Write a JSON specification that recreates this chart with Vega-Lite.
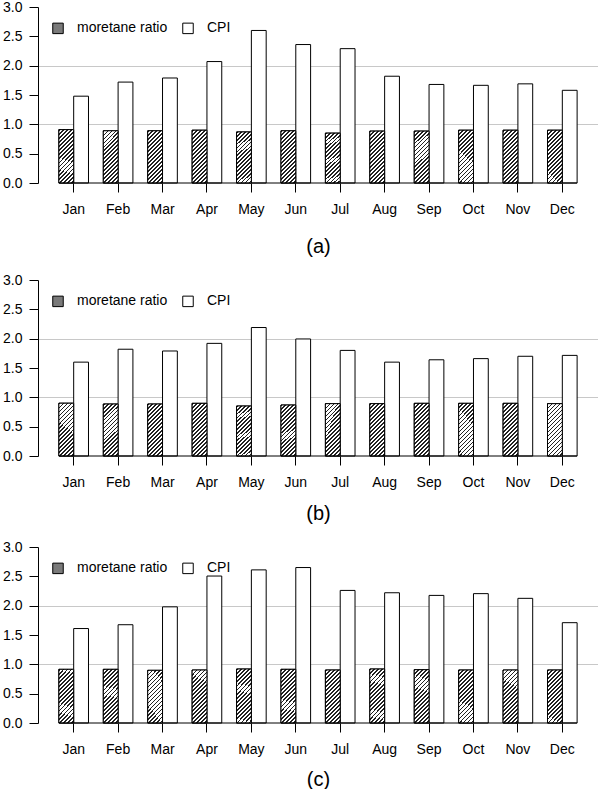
{
  "$schema": "https://vega.github.io/schema/vega-lite/v6.json",
  "padding": {"left": 2, "top": 0, "right": 0, "bottom": 0},
  "spacing": 17,
  "resolve": {"scale": {"fill": "independent"}, "legend": {"fill": "independent"}},
  "config": {
    "font": "Liberation Sans",
    "view": {"stroke": null},
    "axisX": {"domain": false, "grid": false, "tickColor": "black", "tickSize": 9, "labelFontSize": 14, "labelColor": "black", "labelPadding": 10, "labelAngle": 0, "titleFontSize": 20, "titleFontWeight": "normal", "titleColor": "black"},
    "axisY": {"domainColor": "black", "tickColor": "black", "tickSize": 9, "labelFontSize": 14, "labelColor": "black", "labelPadding": 7, "grid": true, "gridColor": "#c8c8c8", "zindex": 1},
    "legend": {"orient": "none", "legendX": 13, "legendY": 14, "direction": "horizontal", "padding": 0, "columnPadding": 12, "labelOffset": 12, "symbolSize": 110, "symbolType": "square", "symbolStrokeColor": "black", "symbolStrokeWidth": 1, "labelFontSize": 14, "labelColor": "black", "title": null}
  },
  "datasets": {
    "a": [
      {"month": "Jan", "series": "moretane ratio", "value": 0.91}, {"month": "Jan", "series": "CPI", "value": 1.48},
      {"month": "Feb", "series": "moretane ratio", "value": 0.89}, {"month": "Feb", "series": "CPI", "value": 1.72},
      {"month": "Mar", "series": "moretane ratio", "value": 0.89}, {"month": "Mar", "series": "CPI", "value": 1.79},
      {"month": "Apr", "series": "moretane ratio", "value": 0.90}, {"month": "Apr", "series": "CPI", "value": 2.07},
      {"month": "May", "series": "moretane ratio", "value": 0.87}, {"month": "May", "series": "CPI", "value": 2.60},
      {"month": "Jun", "series": "moretane ratio", "value": 0.89}, {"month": "Jun", "series": "CPI", "value": 2.36},
      {"month": "Jul", "series": "moretane ratio", "value": 0.85}, {"month": "Jul", "series": "CPI", "value": 2.29},
      {"month": "Aug", "series": "moretane ratio", "value": 0.885}, {"month": "Aug", "series": "CPI", "value": 1.82},
      {"month": "Sep", "series": "moretane ratio", "value": 0.885}, {"month": "Sep", "series": "CPI", "value": 1.68},
      {"month": "Oct", "series": "moretane ratio", "value": 0.90}, {"month": "Oct", "series": "CPI", "value": 1.665},
      {"month": "Nov", "series": "moretane ratio", "value": 0.90}, {"month": "Nov", "series": "CPI", "value": 1.69},
      {"month": "Dec", "series": "moretane ratio", "value": 0.90}, {"month": "Dec", "series": "CPI", "value": 1.58}
    ],
    "b": [
      {"month": "Jan", "series": "moretane ratio", "value": 0.90}, {"month": "Jan", "series": "CPI", "value": 1.60},
      {"month": "Feb", "series": "moretane ratio", "value": 0.886}, {"month": "Feb", "series": "CPI", "value": 1.82},
      {"month": "Mar", "series": "moretane ratio", "value": 0.886}, {"month": "Mar", "series": "CPI", "value": 1.79},
      {"month": "Apr", "series": "moretane ratio", "value": 0.898}, {"month": "Apr", "series": "CPI", "value": 1.92},
      {"month": "May", "series": "moretane ratio", "value": 0.852}, {"month": "May", "series": "CPI", "value": 2.19},
      {"month": "Jun", "series": "moretane ratio", "value": 0.869}, {"month": "Jun", "series": "CPI", "value": 1.995},
      {"month": "Jul", "series": "moretane ratio", "value": 0.892}, {"month": "Jul", "series": "CPI", "value": 1.80},
      {"month": "Aug", "series": "moretane ratio", "value": 0.892}, {"month": "Aug", "series": "CPI", "value": 1.60},
      {"month": "Sep", "series": "moretane ratio", "value": 0.898}, {"month": "Sep", "series": "CPI", "value": 1.64},
      {"month": "Oct", "series": "moretane ratio", "value": 0.898}, {"month": "Oct", "series": "CPI", "value": 1.66},
      {"month": "Nov", "series": "moretane ratio", "value": 0.898}, {"month": "Nov", "series": "CPI", "value": 1.70},
      {"month": "Dec", "series": "moretane ratio", "value": 0.892}, {"month": "Dec", "series": "CPI", "value": 1.715}
    ],
    "c": [
      {"month": "Jan", "series": "moretane ratio", "value": 0.915}, {"month": "Jan", "series": "CPI", "value": 1.61},
      {"month": "Feb", "series": "moretane ratio", "value": 0.915}, {"month": "Feb", "series": "CPI", "value": 1.675},
      {"month": "Mar", "series": "moretane ratio", "value": 0.898}, {"month": "Mar", "series": "CPI", "value": 1.98},
      {"month": "Apr", "series": "moretane ratio", "value": 0.903}, {"month": "Apr", "series": "CPI", "value": 2.505},
      {"month": "May", "series": "moretane ratio", "value": 0.92}, {"month": "May", "series": "CPI", "value": 2.61},
      {"month": "Jun", "series": "moretane ratio", "value": 0.915}, {"month": "Jun", "series": "CPI", "value": 2.65},
      {"month": "Jul", "series": "moretane ratio", "value": 0.903}, {"month": "Jul", "series": "CPI", "value": 2.26},
      {"month": "Aug", "series": "moretane ratio", "value": 0.92}, {"month": "Aug", "series": "CPI", "value": 2.22},
      {"month": "Sep", "series": "moretane ratio", "value": 0.909}, {"month": "Sep", "series": "CPI", "value": 2.175},
      {"month": "Oct", "series": "moretane ratio", "value": 0.903}, {"month": "Oct", "series": "CPI", "value": 2.205},
      {"month": "Nov", "series": "moretane ratio", "value": 0.903}, {"month": "Nov", "series": "CPI", "value": 2.125},
      {"month": "Dec", "series": "moretane ratio", "value": 0.903}, {"month": "Dec", "series": "CPI", "value": 1.71}
    ]
  },
  "vconcat": [
    {
      "width": 560, "height": 176,
      "data": {"name": "a"},
      "layer": [
        {
          "mark": {"type": "bar", "stroke": "black", "strokeWidth": 1},
          "encoding": {
            "x": {"field": "month", "type": "nominal", "scale": {"domain": ["Jan","Feb","Mar","Apr","May","Jun","Jul","Aug","Sep","Oct","Nov","Dec"], "paddingInner": 0.3333, "paddingOuter": 0.47}, "axis": {"title": "(a)", "titlePadding": 20}},
            "xOffset": {"field": "series", "type": "nominal", "scale": {"domain": ["moretane ratio", "CPI"], "paddingInner": 0, "paddingOuter": 0}},
            "y": {"field": "value", "type": "quantitative", "scale": {"domain": [0, 3], "nice": false}, "axis": {"title": null, "values": [0, 0.5, 1, 1.5, 2, 2.5, 3], "format": ".1f", "gridOpacity": {"condition": {"test": "datum.value === 1 || datum.value === 2", "value": 1}, "value": 0}}},
            "fill": {"field": "series", "type": "nominal", "scale": {"domain": ["moretane ratio", "CPI"], "range": ["#7a7a7a", "white"]}}
          }
        },
        {
          "transform": [{"filter": "datum.series === 'moretane ratio'"}],
          "mark": {"type": "bar", "stroke": "black", "strokeWidth": 1,
            "fill": {"gradient": "linear", "x1": 0, "y1": 0, "x2": 0.341, "y2": 1.2, "stops": [
              {"offset": 0, "color": "#222"}, {"offset": 0.0265, "color": "#222"}, {"offset": 0.0265, "color": "#fff"}, {"offset": 0.0588, "color": "#fff"},
              {"offset": 0.0588, "color": "#222"}, {"offset": 0.0853, "color": "#222"}, {"offset": 0.0853, "color": "#fff"}, {"offset": 0.1176, "color": "#fff"},
              {"offset": 0.1176, "color": "#222"}, {"offset": 0.1441, "color": "#222"}, {"offset": 0.1441, "color": "#fff"}, {"offset": 0.1765, "color": "#fff"},
              {"offset": 0.1765, "color": "#222"}, {"offset": 0.2029, "color": "#222"}, {"offset": 0.2029, "color": "#fff"}, {"offset": 0.2353, "color": "#fff"},
              {"offset": 0.2353, "color": "#222"}, {"offset": 0.2618, "color": "#222"}, {"offset": 0.2618, "color": "#fff"}, {"offset": 0.2941, "color": "#fff"},
              {"offset": 0.2941, "color": "#222"}, {"offset": 0.3206, "color": "#222"}, {"offset": 0.3206, "color": "#fff"}, {"offset": 0.3529, "color": "#fff"},
              {"offset": 0.3529, "color": "#222"}, {"offset": 0.3794, "color": "#222"}, {"offset": 0.3794, "color": "#fff"}, {"offset": 0.4118, "color": "#fff"},
              {"offset": 0.4118, "color": "#222"}, {"offset": 0.4382, "color": "#222"}, {"offset": 0.4382, "color": "#fff"}, {"offset": 0.4706, "color": "#fff"},
              {"offset": 0.4706, "color": "#222"}, {"offset": 0.4971, "color": "#222"}, {"offset": 0.4971, "color": "#fff"}, {"offset": 0.5294, "color": "#fff"},
              {"offset": 0.5294, "color": "#222"}, {"offset": 0.5559, "color": "#222"}, {"offset": 0.5559, "color": "#fff"}, {"offset": 0.5882, "color": "#fff"},
              {"offset": 0.5882, "color": "#222"}, {"offset": 0.6147, "color": "#222"}, {"offset": 0.6147, "color": "#fff"}, {"offset": 0.6471, "color": "#fff"},
              {"offset": 0.6471, "color": "#222"}, {"offset": 0.6735, "color": "#222"}, {"offset": 0.6735, "color": "#fff"}, {"offset": 0.7059, "color": "#fff"},
              {"offset": 0.7059, "color": "#222"}, {"offset": 0.7324, "color": "#222"}, {"offset": 0.7324, "color": "#fff"}, {"offset": 0.7647, "color": "#fff"},
              {"offset": 0.7647, "color": "#222"}, {"offset": 0.7912, "color": "#222"}, {"offset": 0.7912, "color": "#fff"}, {"offset": 0.8235, "color": "#fff"},
              {"offset": 0.8235, "color": "#222"}, {"offset": 0.85, "color": "#222"}, {"offset": 0.85, "color": "#fff"}, {"offset": 0.8824, "color": "#fff"},
              {"offset": 0.8824, "color": "#222"}, {"offset": 0.9088, "color": "#222"}, {"offset": 0.9088, "color": "#fff"}, {"offset": 0.9412, "color": "#fff"},
              {"offset": 0.9412, "color": "#222"}, {"offset": 0.9676, "color": "#222"}, {"offset": 0.9676, "color": "#fff"}, {"offset": 1, "color": "#fff"}
            ]}},
          "encoding": {
            "x": {"field": "month", "type": "nominal", "scale": {"domain": ["Jan","Feb","Mar","Apr","May","Jun","Jul","Aug","Sep","Oct","Nov","Dec"]}, "axis": {"title": "(a)", "titlePadding": 20}},
            "xOffset": {"field": "series", "type": "nominal", "scale": {"domain": ["moretane ratio", "CPI"]}},
            "y": {"field": "value", "type": "quantitative", "axis": {"title": null, "values": [0, 0.5, 1, 1.5, 2, 2.5, 3], "format": ".1f", "gridOpacity": {"condition": {"test": "datum.value === 1 || datum.value === 2", "value": 1}, "value": 0}}}
          }
        },
        {
          "data": {"values": [{"first": "Jan", "last": "Dec"}]},
          "mark": {"type": "rule", "color": "black", "strokeWidth": 1},
          "encoding": {
            "x": {"field": "first", "type": "nominal", "bandPosition": 0, "scale": {"domain": ["Jan","Feb","Mar","Apr","May","Jun","Jul","Aug","Sep","Oct","Nov","Dec"]}, "axis": {"title": "(a)", "titlePadding": 20}},
            "x2": {"field": "last", "bandPosition": 1},
            "y": {"datum": 0, "type": "quantitative", "axis": {"title": null, "values": [0, 0.5, 1, 1.5, 2, 2.5, 3], "format": ".1f", "gridOpacity": {"condition": {"test": "datum.value === 1 || datum.value === 2", "value": 1}, "value": 0}}}
          }
        }
      ]
    },
    {
      "width": 560, "height": 176,
      "data": {"name": "b"},
      "layer": [
        {
          "mark": {"type": "bar", "stroke": "black", "strokeWidth": 1},
          "encoding": {
            "x": {"field": "month", "type": "nominal", "scale": {"domain": ["Jan","Feb","Mar","Apr","May","Jun","Jul","Aug","Sep","Oct","Nov","Dec"], "paddingInner": 0.3333, "paddingOuter": 0.47}, "axis": {"title": "(b)", "titlePadding": 14}},
            "xOffset": {"field": "series", "type": "nominal", "scale": {"domain": ["moretane ratio", "CPI"], "paddingInner": 0, "paddingOuter": 0}},
            "y": {"field": "value", "type": "quantitative", "scale": {"domain": [0, 3], "nice": false}, "axis": {"title": null, "values": [0, 0.5, 1, 1.5, 2, 2.5, 3], "format": ".1f", "gridOpacity": {"condition": {"test": "datum.value === 1 || datum.value === 2", "value": 1}, "value": 0}}},
            "fill": {"field": "series", "type": "nominal", "scale": {"domain": ["moretane ratio", "CPI"], "range": ["#7a7a7a", "white"]}}
          }
        },
        {
          "transform": [{"filter": "datum.series === 'moretane ratio'"}],
          "mark": {"type": "bar", "stroke": "black", "strokeWidth": 1,
            "fill": {"gradient": "linear", "x1": 0, "y1": 0, "x2": 0.341, "y2": 1.2, "stops": [
              {"offset": 0, "color": "#222"}, {"offset": 0.0265, "color": "#222"}, {"offset": 0.0265, "color": "#fff"}, {"offset": 0.0588, "color": "#fff"},
              {"offset": 0.0588, "color": "#222"}, {"offset": 0.0853, "color": "#222"}, {"offset": 0.0853, "color": "#fff"}, {"offset": 0.1176, "color": "#fff"},
              {"offset": 0.1176, "color": "#222"}, {"offset": 0.1441, "color": "#222"}, {"offset": 0.1441, "color": "#fff"}, {"offset": 0.1765, "color": "#fff"},
              {"offset": 0.1765, "color": "#222"}, {"offset": 0.2029, "color": "#222"}, {"offset": 0.2029, "color": "#fff"}, {"offset": 0.2353, "color": "#fff"},
              {"offset": 0.2353, "color": "#222"}, {"offset": 0.2618, "color": "#222"}, {"offset": 0.2618, "color": "#fff"}, {"offset": 0.2941, "color": "#fff"},
              {"offset": 0.2941, "color": "#222"}, {"offset": 0.3206, "color": "#222"}, {"offset": 0.3206, "color": "#fff"}, {"offset": 0.3529, "color": "#fff"},
              {"offset": 0.3529, "color": "#222"}, {"offset": 0.3794, "color": "#222"}, {"offset": 0.3794, "color": "#fff"}, {"offset": 0.4118, "color": "#fff"},
              {"offset": 0.4118, "color": "#222"}, {"offset": 0.4382, "color": "#222"}, {"offset": 0.4382, "color": "#fff"}, {"offset": 0.4706, "color": "#fff"},
              {"offset": 0.4706, "color": "#222"}, {"offset": 0.4971, "color": "#222"}, {"offset": 0.4971, "color": "#fff"}, {"offset": 0.5294, "color": "#fff"},
              {"offset": 0.5294, "color": "#222"}, {"offset": 0.5559, "color": "#222"}, {"offset": 0.5559, "color": "#fff"}, {"offset": 0.5882, "color": "#fff"},
              {"offset": 0.5882, "color": "#222"}, {"offset": 0.6147, "color": "#222"}, {"offset": 0.6147, "color": "#fff"}, {"offset": 0.6471, "color": "#fff"},
              {"offset": 0.6471, "color": "#222"}, {"offset": 0.6735, "color": "#222"}, {"offset": 0.6735, "color": "#fff"}, {"offset": 0.7059, "color": "#fff"},
              {"offset": 0.7059, "color": "#222"}, {"offset": 0.7324, "color": "#222"}, {"offset": 0.7324, "color": "#fff"}, {"offset": 0.7647, "color": "#fff"},
              {"offset": 0.7647, "color": "#222"}, {"offset": 0.7912, "color": "#222"}, {"offset": 0.7912, "color": "#fff"}, {"offset": 0.8235, "color": "#fff"},
              {"offset": 0.8235, "color": "#222"}, {"offset": 0.85, "color": "#222"}, {"offset": 0.85, "color": "#fff"}, {"offset": 0.8824, "color": "#fff"},
              {"offset": 0.8824, "color": "#222"}, {"offset": 0.9088, "color": "#222"}, {"offset": 0.9088, "color": "#fff"}, {"offset": 0.9412, "color": "#fff"},
              {"offset": 0.9412, "color": "#222"}, {"offset": 0.9676, "color": "#222"}, {"offset": 0.9676, "color": "#fff"}, {"offset": 1, "color": "#fff"}
            ]}},
          "encoding": {
            "x": {"field": "month", "type": "nominal", "scale": {"domain": ["Jan","Feb","Mar","Apr","May","Jun","Jul","Aug","Sep","Oct","Nov","Dec"]}, "axis": {"title": "(b)", "titlePadding": 14}},
            "xOffset": {"field": "series", "type": "nominal", "scale": {"domain": ["moretane ratio", "CPI"]}},
            "y": {"field": "value", "type": "quantitative", "axis": {"title": null, "values": [0, 0.5, 1, 1.5, 2, 2.5, 3], "format": ".1f", "gridOpacity": {"condition": {"test": "datum.value === 1 || datum.value === 2", "value": 1}, "value": 0}}}
          }
        },
        {
          "data": {"values": [{"first": "Jan", "last": "Dec"}]},
          "mark": {"type": "rule", "color": "black", "strokeWidth": 1},
          "encoding": {
            "x": {"field": "first", "type": "nominal", "bandPosition": 0, "scale": {"domain": ["Jan","Feb","Mar","Apr","May","Jun","Jul","Aug","Sep","Oct","Nov","Dec"]}, "axis": {"title": "(b)", "titlePadding": 14}},
            "x2": {"field": "last", "bandPosition": 1},
            "y": {"datum": 0, "type": "quantitative", "axis": {"title": null, "values": [0, 0.5, 1, 1.5, 2, 2.5, 3], "format": ".1f", "gridOpacity": {"condition": {"test": "datum.value === 1 || datum.value === 2", "value": 1}, "value": 0}}}
          }
        }
      ]
    },
    {
      "width": 560, "height": 176,
      "data": {"name": "c"},
      "layer": [
        {
          "mark": {"type": "bar", "stroke": "black", "strokeWidth": 1},
          "encoding": {
            "x": {"field": "month", "type": "nominal", "scale": {"domain": ["Jan","Feb","Mar","Apr","May","Jun","Jul","Aug","Sep","Oct","Nov","Dec"], "paddingInner": 0.3333, "paddingOuter": 0.47}, "axis": {"title": "(c)", "titlePadding": 13}},
            "xOffset": {"field": "series", "type": "nominal", "scale": {"domain": ["moretane ratio", "CPI"], "paddingInner": 0, "paddingOuter": 0}},
            "y": {"field": "value", "type": "quantitative", "scale": {"domain": [0, 3], "nice": false}, "axis": {"title": null, "values": [0, 0.5, 1, 1.5, 2, 2.5, 3], "format": ".1f", "gridOpacity": {"condition": {"test": "datum.value === 1 || datum.value === 2", "value": 1}, "value": 0}}},
            "fill": {"field": "series", "type": "nominal", "scale": {"domain": ["moretane ratio", "CPI"], "range": ["#7a7a7a", "white"]}}
          }
        },
        {
          "transform": [{"filter": "datum.series === 'moretane ratio'"}],
          "mark": {"type": "bar", "stroke": "black", "strokeWidth": 1,
            "fill": {"gradient": "linear", "x1": 0, "y1": 0, "x2": 0.341, "y2": 1.2, "stops": [
              {"offset": 0, "color": "#222"}, {"offset": 0.0265, "color": "#222"}, {"offset": 0.0265, "color": "#fff"}, {"offset": 0.0588, "color": "#fff"},
              {"offset": 0.0588, "color": "#222"}, {"offset": 0.0853, "color": "#222"}, {"offset": 0.0853, "color": "#fff"}, {"offset": 0.1176, "color": "#fff"},
              {"offset": 0.1176, "color": "#222"}, {"offset": 0.1441, "color": "#222"}, {"offset": 0.1441, "color": "#fff"}, {"offset": 0.1765, "color": "#fff"},
              {"offset": 0.1765, "color": "#222"}, {"offset": 0.2029, "color": "#222"}, {"offset": 0.2029, "color": "#fff"}, {"offset": 0.2353, "color": "#fff"},
              {"offset": 0.2353, "color": "#222"}, {"offset": 0.2618, "color": "#222"}, {"offset": 0.2618, "color": "#fff"}, {"offset": 0.2941, "color": "#fff"},
              {"offset": 0.2941, "color": "#222"}, {"offset": 0.3206, "color": "#222"}, {"offset": 0.3206, "color": "#fff"}, {"offset": 0.3529, "color": "#fff"},
              {"offset": 0.3529, "color": "#222"}, {"offset": 0.3794, "color": "#222"}, {"offset": 0.3794, "color": "#fff"}, {"offset": 0.4118, "color": "#fff"},
              {"offset": 0.4118, "color": "#222"}, {"offset": 0.4382, "color": "#222"}, {"offset": 0.4382, "color": "#fff"}, {"offset": 0.4706, "color": "#fff"},
              {"offset": 0.4706, "color": "#222"}, {"offset": 0.4971, "color": "#222"}, {"offset": 0.4971, "color": "#fff"}, {"offset": 0.5294, "color": "#fff"},
              {"offset": 0.5294, "color": "#222"}, {"offset": 0.5559, "color": "#222"}, {"offset": 0.5559, "color": "#fff"}, {"offset": 0.5882, "color": "#fff"},
              {"offset": 0.5882, "color": "#222"}, {"offset": 0.6147, "color": "#222"}, {"offset": 0.6147, "color": "#fff"}, {"offset": 0.6471, "color": "#fff"},
              {"offset": 0.6471, "color": "#222"}, {"offset": 0.6735, "color": "#222"}, {"offset": 0.6735, "color": "#fff"}, {"offset": 0.7059, "color": "#fff"},
              {"offset": 0.7059, "color": "#222"}, {"offset": 0.7324, "color": "#222"}, {"offset": 0.7324, "color": "#fff"}, {"offset": 0.7647, "color": "#fff"},
              {"offset": 0.7647, "color": "#222"}, {"offset": 0.7912, "color": "#222"}, {"offset": 0.7912, "color": "#fff"}, {"offset": 0.8235, "color": "#fff"},
              {"offset": 0.8235, "color": "#222"}, {"offset": 0.85, "color": "#222"}, {"offset": 0.85, "color": "#fff"}, {"offset": 0.8824, "color": "#fff"},
              {"offset": 0.8824, "color": "#222"}, {"offset": 0.9088, "color": "#222"}, {"offset": 0.9088, "color": "#fff"}, {"offset": 0.9412, "color": "#fff"},
              {"offset": 0.9412, "color": "#222"}, {"offset": 0.9676, "color": "#222"}, {"offset": 0.9676, "color": "#fff"}, {"offset": 1, "color": "#fff"}
            ]}},
          "encoding": {
            "x": {"field": "month", "type": "nominal", "scale": {"domain": ["Jan","Feb","Mar","Apr","May","Jun","Jul","Aug","Sep","Oct","Nov","Dec"]}, "axis": {"title": "(c)", "titlePadding": 13}},
            "xOffset": {"field": "series", "type": "nominal", "scale": {"domain": ["moretane ratio", "CPI"]}},
            "y": {"field": "value", "type": "quantitative", "axis": {"title": null, "values": [0, 0.5, 1, 1.5, 2, 2.5, 3], "format": ".1f", "gridOpacity": {"condition": {"test": "datum.value === 1 || datum.value === 2", "value": 1}, "value": 0}}}
          }
        },
        {
          "data": {"values": [{"first": "Jan", "last": "Dec"}]},
          "mark": {"type": "rule", "color": "black", "strokeWidth": 1},
          "encoding": {
            "x": {"field": "first", "type": "nominal", "bandPosition": 0, "scale": {"domain": ["Jan","Feb","Mar","Apr","May","Jun","Jul","Aug","Sep","Oct","Nov","Dec"]}, "axis": {"title": "(c)", "titlePadding": 13}},
            "x2": {"field": "last", "bandPosition": 1},
            "y": {"datum": 0, "type": "quantitative", "axis": {"title": null, "values": [0, 0.5, 1, 1.5, 2, 2.5, 3], "format": ".1f", "gridOpacity": {"condition": {"test": "datum.value === 1 || datum.value === 2", "value": 1}, "value": 0}}}
          }
        }
      ]
    }
  ]
}
